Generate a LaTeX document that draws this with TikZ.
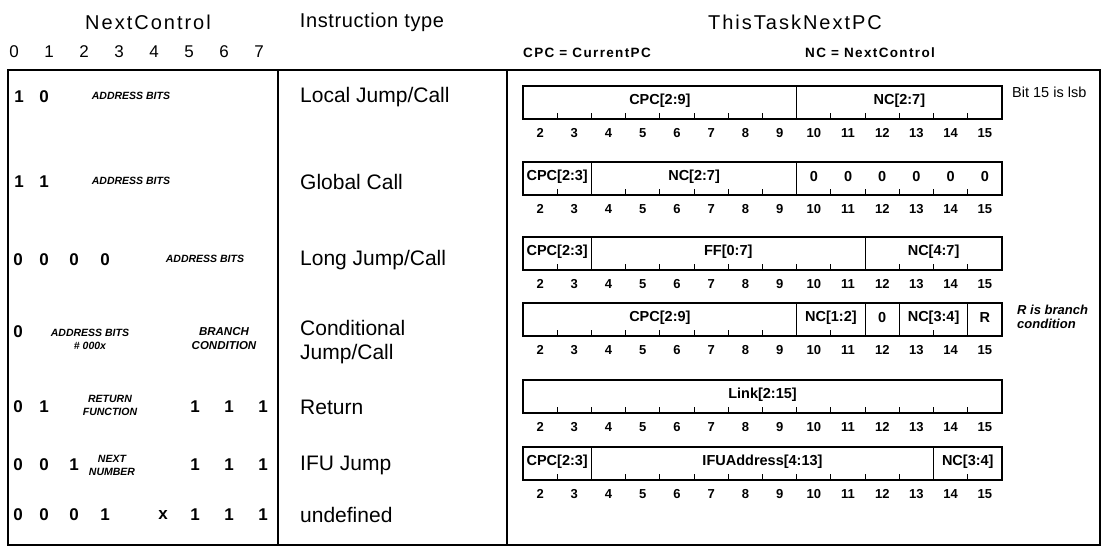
\documentclass[tikz,border=0pt]{standalone}
\usepackage{fontspec}
\setmainfont{Liberation Sans}
\begin{document}
\begin{tikzpicture}[x=1pt,y=-1pt,
  frame/.style={line width=1.4pt},
  reg/.style={line width=1.3pt},
  tickmark/.style={line width=1pt},
  bitnum/.style={font=\fontsize{13}{13}\selectfont\bfseries, inner sep=0pt},
  field/.style={font=\fontsize{14.5}{15}\selectfont\bfseries, inner sep=0pt},
  kind/.style={font=\fontsize{21}{24}\selectfont, anchor=west, inner sep=0pt, align=left},
  head/.style={font=\fontsize{20}{22}\selectfont\addfontfeatures{LetterSpace=10}, inner sep=0pt},
  sub/.style={font=\fontsize{13.5}{14}\selectfont\bfseries\addfontfeatures{LetterSpace=10}, anchor=west, inner sep=0pt},
  cbit/.style={font=\fontsize{17}{17}\selectfont\bfseries, inner sep=0pt},
  hbit/.style={font=\fontsize{17}{17}\selectfont, inner sep=0pt},
  abits/.style={font=\fontsize{10.5}{13}\selectfont\bfseries\itshape, inner sep=0pt, align=center},
  note/.style={font=\fontsize{14.5}{15}\selectfont, anchor=west, inner sep=0pt, align=left}]

\useasboundingbox (0,0) rectangle (1102,553);

% register geometry: left edge, width of one bit cell
\def\RL{523}
\def\RW{34.214}
% #1 row name, #2 top y, #3 field dividers, #4 tick positions
\newcommand\regrow[4]{%
  \draw[reg] (\RL,#2) rectangle ({\RL+14*\RW},#2+33);
  \foreach \k in {#3} {\draw[reg] ({\RL+\k*\RW},#2) -- ++(0,33);}
  \foreach \k in {#4} {\draw[tickmark] ({\RL+\k*\RW},#2+33) -- ++(0,-6);}
  \foreach \b [count=\i from 0] in {2,...,15}
    {\node[bitnum] (#1n\b) at ({\RL+(\i+0.5)*\RW},#2+47) {\b};}
}
% field label centred over bits #3..#4 of row at top #2
\newcommand\fieldlabel[5]{%
  \node[field] (#1) at ({\RL+((#3+#4)/2-1.5)*\RW},#2+15) {#5};}

% outer frame and column rules
\draw[frame] (8,70) rectangle (1100,545);
\draw[frame] (278,70) -- (278,545);
\draw[frame] (507,70) -- (507,545);

% headings
\node[head] (hnc) at (148,22) {NextControl};
\node[head, font=\fontsize{20}{22}\selectfont\addfontfeatures{LetterSpace=3}] (hit) at (372,22) {Instruction type};
\node[head] (htp) at (795,22) {ThisTaskNextPC};
\node[sub] (cpcdef) at (523,53) {CPC = CurrentPC};
\node[sub] (ncdef) at (805,53) {NC = NextControl};

% NextControl bit numbers
\foreach \b in {0,...,7}
  {\node[hbit] (hb\b) at (14+35*\b,52) {\b};}

% row 1: local jump/call
\node[cbit] (a0) at (19,97) {1};
\node[cbit] (a1) at (44,97) {0};
\node[abits] (aa) at (131,96) {ADDRESS BITS};
\node[kind] (ka) at (300,97) {Local Jump/Call};
\regrow{r1}{86}{8}{1,...,7,9,10,11,12,13}
\fieldlabel{r1f1}{86}{2}{9}{CPC[2:9]}
\fieldlabel{r1f2}{86}{10}{15}{NC[2:7]}
\node[note] (lsb) at (1012,92) {Bit 15 is lsb};

% row 2: global call
\node[cbit] (b0) at (19,182) {1};
\node[cbit] (b1) at (44,182) {1};
\node[abits] (ba) at (131,181) {ADDRESS BITS};
\node[kind] (kb) at (300,182) {Global Call};
\regrow{r2}{162}{2,8}{1,3,4,5,6,7,9,10,11,12,13}
\fieldlabel{r2f1}{162}{2}{3}{CPC[2:3]}
\fieldlabel{r2f2}{162}{4}{9}{NC[2:7]}
\foreach \b in {10,...,15} {\fieldlabel{r2z\b}{162}{\b}{\b}{0}}

% row 3: long jump/call
\foreach \b/\x in {0/18,1/44,2/74,3/105}
  {\node[cbit] (c\b) at (\x,260) {0};}
\node[abits] (ca) at (205,259) {ADDRESS BITS};
\node[kind] (kc) at (300,260) {Long Jump/Call};
\regrow{r3}{237}{2,10}{1,3,4,5,6,7,8,9,11,12,13}
\fieldlabel{r3f1}{237}{2}{3}{CPC[2:3]}
\fieldlabel{r3f2}{237}{4}{11}{FF[0:7]}
\fieldlabel{r3f3}{237}{12}{15}{NC[4:7]}

% row 4: conditional jump/call
\node[cbit] (d0) at (18,332) {0};
\node[abits] (da) at (90,339) {ADDRESS BITS\\\# 000x};
\node[abits, font=\fontsize{11.5}{14}\selectfont\bfseries\itshape] (dc) at (224,339) {BRANCH\\CONDITION};
\node[kind] (kd) at (300,342) {Conditional\\Jump/Call};
\regrow{r4}{303}{8,10,11,13}{1,...,7,9,12}
\fieldlabel{r4f1}{303}{2}{9}{CPC[2:9]}
\fieldlabel{r4f2}{303}{10}{11}{NC[1:2]}
\fieldlabel{r4f3}{303}{12}{12}{0}
\fieldlabel{r4f4}{303}{13}{14}{NC[3:4]}
\fieldlabel{r4f5}{303}{15}{15}{R}
\node[note, font=\fontsize{13}{14}\selectfont\bfseries\itshape] (rnote) at (1017,317) {R is branch\\condition};

% row 5: return
\node[cbit] (e0) at (18,407) {0};
\node[cbit] (e1) at (44,407) {1};
\node[abits] (ea) at (110,405) {RETURN\\FUNCTION};
\foreach \b/\x in {5/195,6/229,7/263} {\node[cbit] (e\b) at (\x,407) {1};}
\node[kind] (ke) at (300,407) {Return};
\regrow{r5}{380}{0}{1,...,13}
\fieldlabel{r5f1}{380}{2}{15}{Link[2:15]}

% row 6: IFU jump
\node[cbit] (f0) at (18,465) {0};
\node[cbit] (f1) at (44,465) {0};
\node[cbit] (f2) at (74,465) {1};
\node[abits] (fa) at (112,465) {NEXT\\NUMBER};
\foreach \b/\x in {5/195,6/229,7/263} {\node[cbit] (f\b) at (\x,465) {1};}
\node[kind] (kf) at (300,465) {IFU Jump};
\regrow{r6}{447}{2,12}{1,3,4,5,6,7,8,9,10,11,13}
\fieldlabel{r6f1}{447}{2}{3}{CPC[2:3]}
\fieldlabel{r6f2}{447}{4}{13}{IFUAddress[4:13]}
\fieldlabel{r6f3}{447}{14}{15}{NC[3:4]}

% row 7: undefined
\foreach \b/\x/\t in {0/18/0,1/44/0,2/74/0,3/105/1,4/163/x,5/195/1,6/229/1,7/263/1}
  {\node[cbit] (g\b) at (\x,515) {\t};}
\node[kind] (kg) at (300,515) {undefined};
\end{tikzpicture}
\end{document}
